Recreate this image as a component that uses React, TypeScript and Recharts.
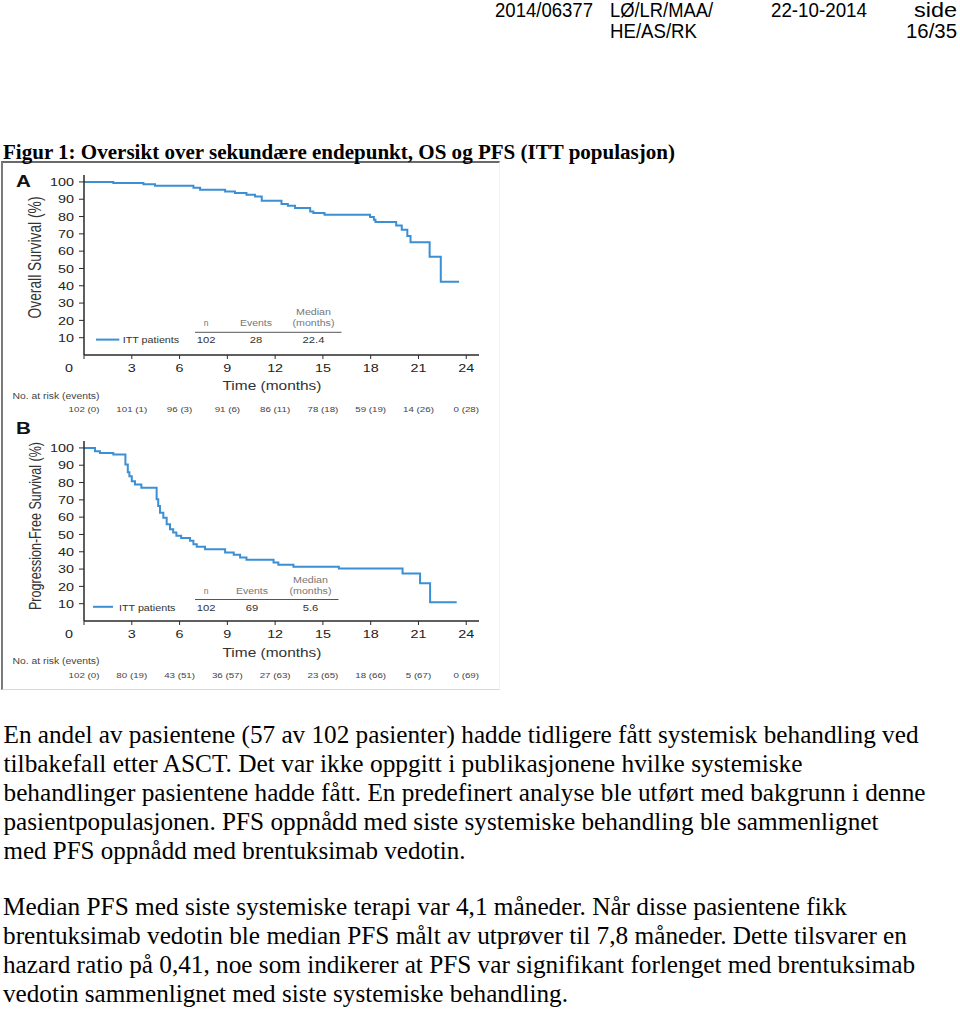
import React from 'react';
import { LineChart, Line, XAxis, YAxis } from 'recharts';

// ---------- data ----------
const xTicks = [0, 3, 6, 9, 12, 15, 18, 21, 24];
const yTicks = [10, 20, 30, 40, 50, 60, 70, 80, 90, 100];

// Overall survival (panel A), step points: months / percent
const osMonths = [0, 1.84, 3.73, 4.46, 6.87, 7.29, 8.86, 9.48, 10.2, 10.74, 11.16, 12.4, 12.8, 13.25, 14.2, 14.4, 15.1, 17.96, 18.2, 18.3, 19.6, 19.95, 20.3, 20.5, 21.7, 22.4, 23.55];
const osSurvival = [100, 99.4, 98.6, 97.8, 96.7, 95.5, 94.5, 93.6, 92.6, 91.6, 89.1, 87.2, 86.2, 84.9, 82.9, 82.0, 81.0, 79.7, 78.1, 76.8, 74.8, 72.3, 68.8, 65.2, 56.8, 42.3, 42.3];

// Progression-free survival (panel B)
const pfsMonths = [0, 0.69, 1.0, 1.84, 2.6, 2.75, 2.85, 3.0, 3.2, 3.6, 4.56, 4.66, 4.77, 4.98, 5.19, 5.4, 5.6, 5.8, 6.1, 6.66, 6.87, 7.08, 7.6, 8.86, 9.4, 9.8, 10.2, 11.9, 12.2, 13.15, 16.0, 20.0, 21.1, 21.73, 23.4];
const pfsSurvival = [100, 98.1, 97.1, 96.2, 90.4, 86.0, 83.7, 80.8, 78.9, 77.0, 70.3, 66.4, 62.6, 59.7, 55.9, 53.0, 51.1, 49.2, 47.9, 46.3, 44.4, 42.9, 41.5, 39.6, 38.3, 36.7, 35.4, 33.8, 32.5, 31.4, 30.4, 27.5, 21.8, 10.8, 10.8];

const osAtRisk = ['102 (0)', '101 (1)', '96 (3)', '91 (6)', '86 (11)', '78 (18)', '59 (19)', '14 (26)', '0 (28)'];
const pfsAtRisk = ['102 (0)', '80 (19)', '43 (51)', '36 (57)', '27 (63)', '23 (65)', '18 (66)', '5 (67)', '0 (69)'];

const osLegend = ['102', '28', '22.4'];
const pfsLegend = ['102', '69', '5.6'];

const header1 = ['2014/06377', 'LØ/LR/MAA/', '22-10-2014', 'side'];
const header2 = ['HE/AS/RK', '16/35'];
const title = 'Figur 1: Oversikt over sekundære endepunkt, OS og PFS (ITT populasjon)';
const para1 = [
  'En andel av pasientene (57 av 102 pasienter) hadde tidligere fått systemisk behandling ved',
  'tilbakefall etter ASCT. Det var ikke oppgitt i publikasjonene hvilke systemiske',
  'behandlinger pasientene hadde fått. En predefinert analyse ble utført med bakgrunn i denne',
  'pasientpopulasjonen. PFS oppnådd med siste systemiske behandling ble sammenlignet',
  'med PFS oppnådd med brentuksimab vedotin.',
];
const para2 = [
  'Median PFS med siste systemiske terapi var 4,1 måneder. Når disse pasientene fikk',
  'brentuksimab vedotin ble median PFS målt av utprøver til 7,8 måneder. Dette tilsvarer en',
  'hazard ratio på 0,41, noe som indikerer at PFS var signifikant forlenget med brentuksimab',
  'vedotin sammenlignet med siste systemiske behandling.',
];

const osData = osMonths.map((t, i) => ({ t, s: osSurvival[i] }));
const pfsData = pfsMonths.map((t, i) => ({ t, s: pfsSurvival[i] }));

// ---------- styles ----------
const SANS = '"Liberation Sans", Arial, Helvetica, sans-serif';
const SERIF = '"Liberation Serif", "Times New Roman", serif';
const SX = 1.25;
const BLUE = '#3a8fd5';
const AXIS = '#2a2a2a';

const makeXTick = (atRisk: string[]) => (props: any) => {
  const { x, y, payload } = props;
  const i = xTicks.indexOf(payload.value);
  const dx = payload.value === 0 ? -15 : 0;
  return (
    <g>
      <text transform={`translate(${x + dx},${y + 10.5}) scale(${SX},1)`} textAnchor="middle" fontSize={11.5} fontFamily={SANS} fill="#222">
        {payload.value}
      </text>
      <text transform={`translate(${x},${y + 50.5}) scale(${SX},1)`} textAnchor="middle" fontSize={7.8} fontFamily={SANS} fill="#444">
        {atRisk[i]}
      </text>
    </g>
  );
};

const YTick = (props: any) => {
  const { x, y, payload } = props;
  return (
    <text transform={`translate(${x},${y}) scale(${SX},1)`} dy="0.36em" textAnchor="end" fontSize={11.5} fontFamily={SANS} fill="#222">
      {payload.value}
    </text>
  );
};

function KMChart({ data, atRisk, top }: { data: { t: number; s: number }[]; atRisk: string[]; top: number }) {
  return (
    <div style={{ position: 'absolute', left: 0, top, width: 500, height: 255 }}>
      <LineChart width={500} height={255} data={data} margin={{ top: 10, right: 21, left: 24, bottom: 0 }}>
        <XAxis
          dataKey="t"
          type="number"
          domain={[0, 24.8]}
          ticks={xTicks}
          interval={0}
          height={65}
          tickSize={4}
          tickMargin={2}
          axisLine={{ stroke: AXIS, strokeWidth: 1.5 }}
          tickLine={{ stroke: AXIS, strokeWidth: 1 }}
          tick={makeXTick(atRisk)}
        />
        <YAxis
          type="number"
          domain={[0, 104]}
          ticks={yTicks}
          interval={0}
          width={60}
          tickSize={5}
          tickMargin={5}
          axisLine={{ stroke: AXIS, strokeWidth: 1.5 }}
          tickLine={{ stroke: AXIS, strokeWidth: 1 }}
          tick={<YTick />}
        />
        <Line dataKey="s" type="stepAfter" stroke={BLUE} strokeWidth={2} dot={false} isAnimationActive={false} />
      </LineChart>
    </div>
  );
}

function Legend({ y, lineX, textX, cols, vals }: { y: number; lineX: [number, number]; textX: number; cols: number[]; vals: string[] }) {
  // y = baseline of value row
  return (
    <g fontFamily={SANS}>
      <line x1={lineX[0]} x2={lineX[1]} y1={y - 3.7} y2={y - 3.7} stroke={BLUE} strokeWidth={2} />
      <text x={textX} y={y} fontSize={9.5} fill="#333" textLength={56.5} lengthAdjust="spacingAndGlyphs">ITT patients</text>
      <text x={cols[0]} y={y - 17} fontSize={8.5} fill="#777" textAnchor="middle">n</text>
      <text x={cols[1]} y={y - 17} fontSize={8.5} fill="#777" textAnchor="middle" textLength={32} lengthAdjust="spacingAndGlyphs">Events</text>
      <text x={cols[2]} y={y - 28} fontSize={8.5} fill="#777" textAnchor="middle" textLength={35} lengthAdjust="spacingAndGlyphs">Median</text>
      <text x={cols[2]} y={y - 17} fontSize={8.5} fill="#777" textAnchor="middle" textLength={42} lengthAdjust="spacingAndGlyphs">(months)</text>
      <line x1={cols[0] - 11} x2={cols[2] + 28} y1={y - 11} y2={y - 11} stroke="#555" strokeWidth={1} />
      {vals.map((v, i) => (
        <text key={i} transform={`translate(${cols[i]},${y}) scale(${SX},1)`} fontSize={9} fill="#333" textAnchor="middle">{v}</text>
      ))}
    </g>
  );
}

export default function App() {
  const headerX1 = [495, 610, 771, 914];
  const headerW1 = [98, 103, 96, 43];
  const headerX2 = [610, 906];
  const headerW2 = [87, 51];
  const p1W = [915, 799, 922, 875, 462];
  const p2W = [844, 904, 912, 565];
  return (
    <div style={{ position: 'absolute', left: 0, top: 0, width: 960, height: 1009, background: '#fff', overflow: 'hidden' }}>
      {/* figure frame */}
      <div style={{ position: 'absolute', left: 1, top: 161, width: 496, height: 526, borderLeft: '2px solid #7a7a7a', borderTop: '2px solid #6a6a6a', borderBottom: '1px solid #d8d8d8', borderRight: '1px solid #f2f2f2' }} />

      <KMChart data={osData} atRisk={osAtRisk} top={165} />
      <KMChart data={pfsData} atRisk={pfsAtRisk} top={431} />

      <svg width={960} height={1009} style={{ position: 'absolute', left: 0, top: 0, pointerEvents: 'none' }}>
        {/* header */}
        <g fontFamily={SANS} fontSize={19.5} fill="#000">
          {header1.map((h, i) => (
            <text key={i} x={headerX1[i]} y={16.5} textLength={headerW1[i]} lengthAdjust="spacingAndGlyphs">{h}</text>
          ))}
          {header2.map((h, i) => (
            <text key={i} x={headerX2[i]} y={37.5} textLength={headerW2[i]} lengthAdjust="spacingAndGlyphs">{h}</text>
          ))}
        </g>
        {/* title */}
        <text x={3} y={158.5} fontFamily={SERIF} fontWeight="bold" fontSize={22} fill="#000" textLength={672} lengthAdjust="spacingAndGlyphs">{title}</text>

        {/* panel labels */}
        <text transform={`translate(16,186.7) scale(${SX},1)`} fontFamily={SANS} fontWeight="bold" fontSize={16.5} fill="#111">A</text>
        <text transform={`translate(16,433.5) scale(${SX},1)`} fontFamily={SANS} fontWeight="bold" fontSize={16.5} fill="#111">B</text>

        {/* y labels */}
        <text transform={`translate(35,257.5) scale(${SX},1) rotate(-90)`} dy="0.36em" textAnchor="middle" fontFamily={SANS} fontSize={14} fill="#333" textLength={122} lengthAdjust="spacingAndGlyphs">Overall Survival (%)</text>
        <text transform={`translate(35,526) scale(${SX},1) rotate(-90)`} dy="0.36em" textAnchor="middle" fontFamily={SANS} fontSize={13.5} fill="#333" textLength={168} lengthAdjust="spacingAndGlyphs">Progression-Free Survival (%)</text>

        {/* x labels */}
        <text x={272} y={390} textAnchor="middle" fontFamily={SANS} fontSize={12.5} fill="#333" textLength={99} lengthAdjust="spacingAndGlyphs">Time (months)</text>
        <text x={272} y={657} textAnchor="middle" fontFamily={SANS} fontSize={12.5} fill="#333" textLength={99} lengthAdjust="spacingAndGlyphs">Time (months)</text>

        {/* at-risk captions */}
        <text x={12.5} y={398.5} fontFamily={SANS} fontSize={8.3} fill="#444" textLength={87} lengthAdjust="spacingAndGlyphs">No. at risk (events)</text>
        <text x={12.5} y={664} fontFamily={SANS} fontSize={8.3} fill="#444" textLength={87} lengthAdjust="spacingAndGlyphs">No. at risk (events)</text>

        {/* legends */}
        <Legend y={343.3} lineX={[96, 119.3]} textX={122.7} cols={[206, 256, 313.5]} vals={osLegend} />
        <Legend y={610.5} lineX={[93, 113]} textX={119} cols={[206, 252, 310.5]} vals={pfsLegend} />

        {/* body text */}
        <g fontFamily={SERIF} fontSize={25} fill="#000">
          {para1.map((l, i) => (
            <text key={i} x={3.5} y={743 + i * 29} textLength={p1W[i]} lengthAdjust="spacingAndGlyphs">{l}</text>
          ))}
          {para2.map((l, i) => (
            <text key={i} x={3} y={915 + i * 29} textLength={p2W[i]} lengthAdjust="spacingAndGlyphs">{l}</text>
          ))}
        </g>
      </svg>
    </div>
  );
}
